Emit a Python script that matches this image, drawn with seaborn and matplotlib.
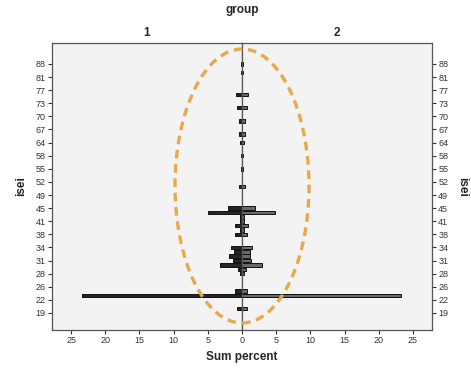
import matplotlib
matplotlib.use("Agg")
import matplotlib.pyplot as plt
import seaborn as sns
import pandas as pd
from matplotlib.patches import Ellipse

# ---- data ----
isei_levels = [19, 20, 21, 22, 23, 25, 26, 26.5, 27, 28, 29, 30, 31, 32, 33, 34, 36, 37,
               38, 39, 40, 41, 43, 44, 45, 47, 48, 49, 50, 51, 52, 53, 54, 55, 56, 57,
               58, 60, 62, 64, 65, 66, 67, 68, 69, 70, 71, 72, 73, 74, 76, 77, 78, 80,
               81, 83, 85, 88]
pct_group1 = [0, 0.8, 0, 0, 23.4, 1.0, 0, 0, 0, 0.3, 0.6, 3.2, 1.3, 1.9, 1.1, 1.6, 0, 0,
              1.0, 0.3, 1.0, 0.3, 0.3, 5.0, 2.0, 0, 0, 0, 0, 0.5, 0, 0, 0, 0.2, 0, 0,
              0.2, 0, 0, 0.3, 0, 0.4, 0, 0, 0.5, 0, 0, 0.7, 0, 0, 0.9, 0, 0, 0,
              0, 0.2, 0, 0.2]
pct_group2 = [0, 0.8, 0, 0, 23.2, 0.8, 0, 0, 0, 0.3, 0.6, 2.9, 1.3, 1.2, 1.1, 1.5, 0, 0,
              0.8, 0.3, 0.9, 0.3, 0.3, 4.8, 1.9, 0, 0, 0, 0, 0.5, 0, 0, 0, 0.2, 0, 0,
              0.2, 0, 0, 0.3, 0, 0.4, 0, 0, 0.5, 0, 0, 0.7, 0, 0, 0.9, 0, 0, 0,
              0, 0.2, 0, 0.2]
tick_every = 3
x_ticks_left = [25, 20, 15, 10, 5, 0]
x_ticks_right = [5, 10, 15, 20, 25]

def fmt(v):
    return str(int(v)) if float(v).is_integer() else str(v)

labels = [fmt(v) for v in isei_levels]
order = labels[::-1]  # top category first
df1 = pd.DataFrame({"isei": labels, "pct": pct_group1})
df2 = pd.DataFrame({"isei": labels, "pct": pct_group2})

sns.set_style("white")
plt.rcParams['font.family'] = ['Liberation Sans', 'DejaVu Sans']

W, H = 471, 369
fig = plt.figure(figsize=(W / 100, H / 100), dpi=100)
L, R, T, B = 52, 432, 43, 330
mid = 242
ax1 = fig.add_axes([L / W, (H - B) / H, (mid - L) / W, (B - T) / H])
ax2 = fig.add_axes([mid / W, (H - B) / H, (R - mid) / W, (B - T) / H])

bg = "#f3f3f3"
n = len(labels)
for ax, df, col in [(ax1, df1, "#262626"), (ax2, df2, "#6a6a6a")]:
    ax.set_facecolor(bg)
    sns.barplot(data=df, x="pct", y="isei", order=order, orient="h", ax=ax,
                color=col, edgecolor="#111111", linewidth=0.7, width=0.8,
                saturation=1, errorbar=None)
    ax.set_ylim(n + 2.9, -4.8)
    tick_pos = [n - 1 - i for i in range(0, n, tick_every)]
    tick_lab = [labels[i] for i in range(0, n, tick_every)]
    ax.set_yticks(tick_pos)
    ax.set_yticklabels(tick_lab)
    ax.tick_params(axis="both", which="both", length=3, width=0.8, color="#333333",
                   labelsize=6.5, labelcolor="#333333", pad=1.5)
    for s in ax.spines.values():
        s.set_color("#555555")
        s.set_linewidth(0.9)
    ax.set_xlabel("")

ax1.set_xlim(27.8, 0)
ax1.set_xticks(x_ticks_left)
ax1.set_ylabel("isei", fontsize=8.5, fontweight="bold", labelpad=6)
ax1.yaxis.tick_left()

ax2.set_xlim(0, 27.8)
ax2.set_xticks(x_ticks_right)
ax2.yaxis.tick_right()
ax2.yaxis.set_label_position("right")
ax2.set_ylabel("isei", fontsize=8.5, fontweight="bold", rotation=270, labelpad=14)
for ax in (ax1, ax2):
    ax.tick_params(axis="x", bottom=True, top=False)
    ax.tick_params(axis="y", left=(ax is ax1), right=(ax is ax2))

fig.text(mid / W, 1 - 10 / H, "group", ha="center", va="center",
         fontsize=8.5, fontweight="bold")
fig.text(147 / W, 1 - 33 / H, "1", ha="center", va="center",
         fontsize=8.5, fontweight="bold")
fig.text(337 / W, 1 - 33 / H, "2", ha="center", va="center",
         fontsize=8.5, fontweight="bold")
fig.text(mid / W, 1 - 357 / H, "Sum percent", ha="center", va="center",
         fontsize=8.5, fontweight="bold")

ell = Ellipse((mid / W, 1 - 186 / H), 134 / W, 274 / H, transform=fig.transFigure,
              fill=False, edgecolor="#e8a94c", linewidth=2.4,
              linestyle=(0, (2.6, 1.7)), zorder=10)
fig.add_artist(ell)

fig.savefig("out.png", dpi=100)
